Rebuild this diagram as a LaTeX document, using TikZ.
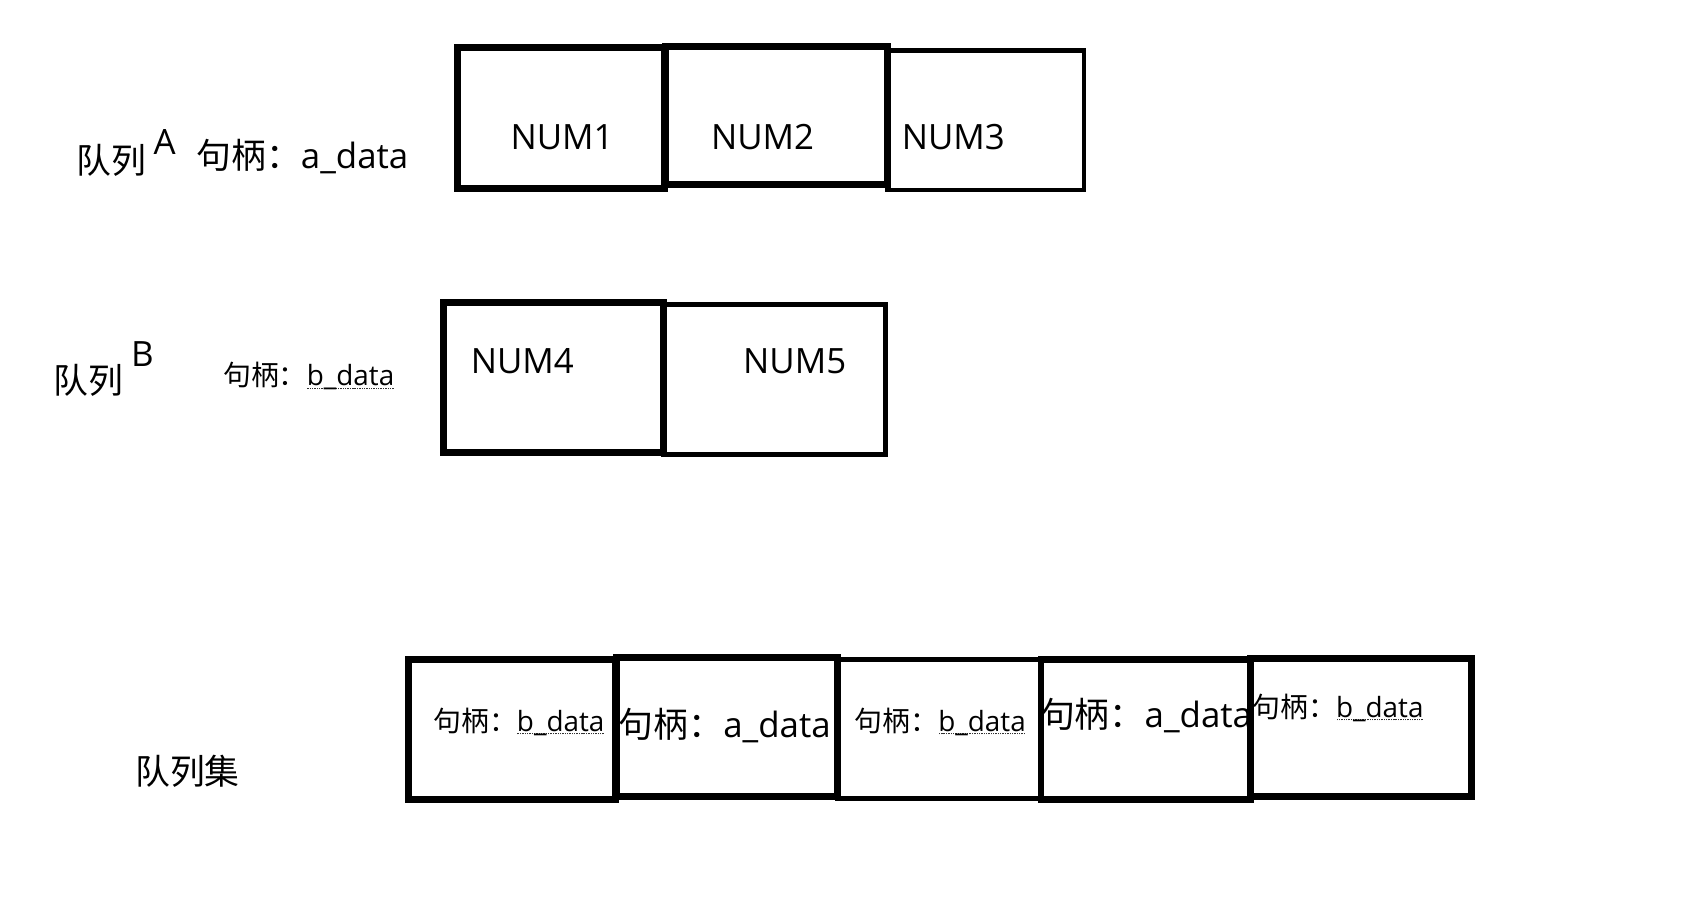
\documentclass[tikz,border=0pt]{standalone}
\usepackage{fontspec}
\setmainfont{Open Sans}
\newfontfamily\cjk{Noto Sans CJK SC}
\newcommand\dotul[1]{\setbox0\hbox{#1}\rlap{\raisebox{-3pt}{\color{black!80}\hbox to \wd0{\leaders\hbox to 2.2pt{\hss\rule{1.3pt}{1.3pt}\hss}\hfill}}}\box0}
\newcommand\handle[1]{{\cjk 句柄：}#1}
\tikzset{
  thickbox/.style={line width=6.5pt},
  thinbox/.style={line width=4.2pt},
  lbl/.style={inner sep=0pt, anchor=base west, font=\fontsize{32.5}{38}\selectfont},
  smalllbl/.style={inner sep=0pt, anchor=base west, font=\fontsize{26}{31}\selectfont},
}
\begin{document}
\begin{tikzpicture}[x=1pt,y=-1pt]
\useasboundingbox[fill=white] (0,0) rectangle (1568,861);
% row A
\draw[thickbox] (427,44) rectangle (620,176);
\draw[thickbox] (621,43) rectangle (828,172);
\draw[thinbox] (828,47) rectangle (1011,177);
\node[lbl] (n1) at (476,139) {NUM1};
\node[lbl] (n2) at (663,139) {NUM2};
\node[lbl] (n3) at (841,139) {NUM3};
\node[lbl] (qa) at (71,162) {\cjk 队列};
\node[lbl] (sa) at (143,144) {A};
\node[lbl] (ha) at (183,157) {\handle{a\_data}};
% row B
\draw[thickbox] (414,282) rectangle (619,422);
\draw[thinbox] (619,284) rectangle (826,424);
\node[lbl] (n4) at (439,348) {NUM4};
\node[lbl] (n5) at (693,348) {NUM5};
\node[lbl] (qb) at (50,367) {\cjk 队列};
\node[lbl] (sb) at (122,342) {B};
\node[smalllbl] (hb) at (208,360) {\handle{\dotul{b\_data}}};
% row C
\draw[thickbox] (381,615) rectangle (574,746);
\draw[thickbox] (575,613) rectangle (781,743);
\draw[thinbox] (781,615) rectangle (970,745);
\draw[thickbox] (971,615) rectangle (1166,746);
\draw[thickbox] (1166,614) rectangle (1373,743);
\node[smalllbl] (c1) at (404,682) {\handle{\dotul{b\_data}}};
\node[lbl] (c2) at (577,688) {\handle{a\_data}};
\node[smalllbl] (c3) at (797,682) {\handle{\dotul{b\_data}}};
\node[lbl] (c4) at (970,679) {\handle{a\_data}};
\node[smalllbl] (c5) at (1168,669) {\handle{\dotul{b\_data}}};
\node[lbl] (qs) at (126,732) {\cjk 队列集};
\end{tikzpicture}
\end{document}
